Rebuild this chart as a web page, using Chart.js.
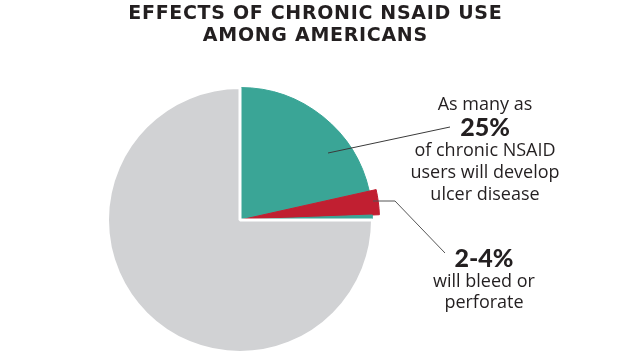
<!DOCTYPE html>
<html><head><meta charset="utf-8">
<script src="https://cdn.jsdelivr.net/npm/chart.js@4.4.1/dist/chart.umd.min.js"></script>
<style>html,body{margin:0;padding:0;background:#fff}#wrap{width:630px;height:359px}</style>
</head><body><div id="wrap"><canvas id="c" width="630" height="359"></canvas></div>
<script>
const categories = ['Ulcer disease', 'Bleed or perforate', 'Ulcer disease (rest)', 'Other users'];
const values = [21.5, 2.9, 0.6, 75];
const colors = ['#3aa596', '#c11f31', '#3aa596', '#d1d2d4'];
const titleLines = ['EFFECTS OF CHRONIC NSAID USE', 'AMONG AMERICANS'];
const label1 = ['As many as', '25%', 'of chronic NSAID', 'users will develop', 'ulcer disease'];
const label2 = ['2-4%', 'will bleed or', 'perforate'];

const enlarge = {
  id: 'enlarge',
  afterDatasetsUpdate(chart) {
    const arc = chart.getDatasetMeta(0).data[1];
    arc.outerRadius = arc.outerRadius + 7;
  }
};
function spacedText(ctx, t, cx, cy, target) {
  ctx.letterSpacing = '0px';
  const w = ctx.measureText(t).width;
  const ls = Math.max(0, (target - w) / t.length);
  ctx.letterSpacing = ls + 'px';
  ctx.textAlign = 'left';
  const w2 = ctx.measureText(t).width - ls;
  ctx.fillText(t, cx - w2 / 2, cy);
  ctx.letterSpacing = '0px';
  ctx.textAlign = 'center';
}
const annot = {
  id: 'annot',
  afterDraw(chart) {
    const ctx = chart.ctx;
    ctx.save();
    ctx.fillStyle = '#231f20';
    ctx.textAlign = 'center';
    ctx.textBaseline = 'middle';
    ctx.font = 'bold 19px "DejaVu Sans"';
    spacedText(ctx, titleLines[0], 315, 14, 374);
    spacedText(ctx, titleLines[1], 315, 36, 225);
    // leader lines
    ctx.strokeStyle = '#3a3a3a';
    ctx.lineWidth = 1;
    ctx.beginPath(); ctx.moveTo(328, 153); ctx.lineTo(450, 127); ctx.stroke();
    ctx.strokeStyle = '#555';
    ctx.beginPath(); ctx.moveTo(373, 201); ctx.lineTo(395, 201); ctx.lineTo(445, 253); ctx.stroke();
    ctx.fillStyle = '#231f20';
    const ys1 = [105, 128, 151, 173, 195];
    label1.forEach((t, i) => {
      ctx.font = i === 1 ? '900 25px Lato' : '400 18px "Open Sans"';
      ctx.fillText(t, 485, ys1[i]);
    });
    const ys2 = [259, 282, 303];
    label2.forEach((t, i) => {
      ctx.font = i === 0 ? '900 25px Lato' : '400 18px "Open Sans"';
      ctx.fillText(t, 484, ys2[i]);
    });
    ctx.restore();
  }
};
new Chart(document.getElementById('c'), {
  type: 'pie',
  data: {
    labels: categories,
    datasets: [{
      data: values,
      backgroundColor: colors,
      borderColor: ['#3aa596', '#c11f31', '#3aa596', '#ffffff'],
      borderWidth: [1, 1, 1, 3]
    }]
  },
  options: {
    responsive: false,
    animation: false,
    layout: { padding: { top: 86, bottom: 5, left: 106, right: 256 } },
    plugins: { legend: { display: false }, tooltip: { enabled: false }, title: { display: false } }
  },
  plugins: [enlarge, annot]
});
</script></body></html>
